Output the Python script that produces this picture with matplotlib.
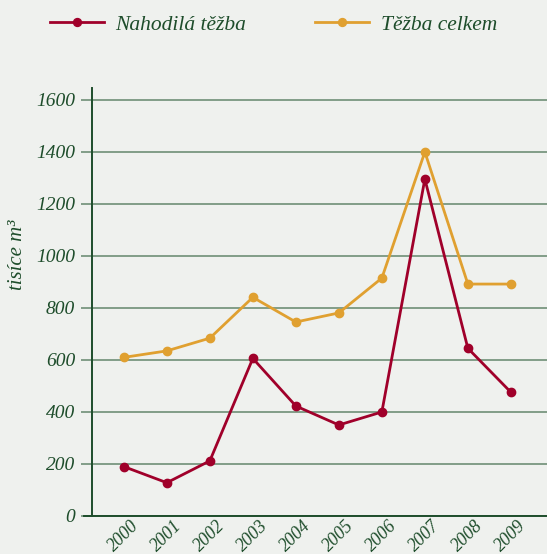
import matplotlib.pyplot as plt
import numpy as np

years = [2000, 2001, 2002, 2003, 2004, 2005, 2006, 2007, 2008, 2009]
nahodila = [190, 128, 212, 606, 423, 350, 400, 1296, 645, 476]
celkem = [610, 635, 684, 841, 746, 781, 915, 1400, 892, 892]

bg = '#eff1ee'
txt = '#1e4d2b'
grid = '#6f8f77'

plt.rcParams['font.family'] = ['Liberation Serif', 'DejaVu Serif']
plt.rcParams['font.style'] = 'italic'

fig = plt.figure(figsize=(5.47, 5.54), dpi=100, facecolor=bg)
ax = fig.add_axes([92/547, 38/554, 1 - 92/547, (516-88)/554])
ax.set_facecolor(bg)

ax.plot(years, nahodila, color='#a0002a', lw=2, marker='o', ms=6, label='Nahodilá těžba')
ax.plot(years, celkem, color='#e0a030', lw=2, marker='o', ms=6, label='Těžba celkem')

ax.set_xlim(1999.26, 2009.84)
ax.set_ylim(0, 1646)
ax.set_yticks(range(0, 1601, 200))
ax.set_xticks(years)
ax.set_xticklabels([str(y) for y in years], rotation=45, ha='center', va='top',
                   fontsize=13, color=txt)
ax.tick_params(axis='y', length=8, width=1.2, color=grid, labelsize=14, labelcolor=txt, pad=4)
ax.tick_params(axis='x', length=0, pad=1)
ax.grid(axis='y', color=grid, lw=1.2)
ax.set_axisbelow(True)

for s in ['top', 'right']:
    ax.spines[s].set_visible(False)
ax.spines['left'].set_color(txt)
ax.spines['left'].set_linewidth(1.4)
ax.spines['bottom'].set_color(txt)
ax.spines['bottom'].set_linewidth(1.4)
ax.spines['bottom'].set_bounds(1999.07, 2009.84)

fig.text(18/547, 1 - 255/554, 'tisíce m³', rotation=90, ha='center', va='center',
         fontsize=15, color=txt)

fig.legend(loc='center', bbox_to_anchor=(0.5, 1 - 25/554), ncol=2, frameon=False,
           fontsize=15.5, labelcolor=txt, handlelength=2.5, columnspacing=3.2,
           handletextpad=0.55, markerscale=0.95)

fig.savefig('out.png', dpi=100, facecolor=bg)
